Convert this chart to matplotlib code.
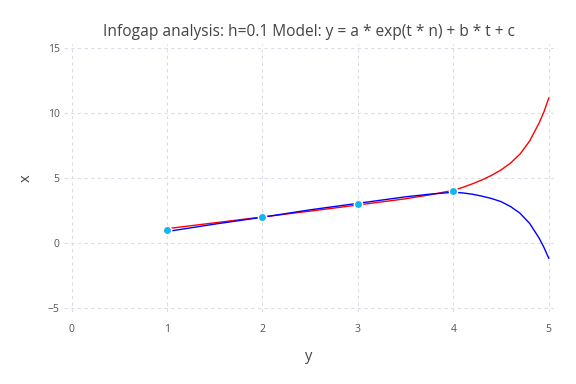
import numpy as np
import matplotlib
matplotlib.use('Agg')
import matplotlib.pyplot as plt

# observed data points
obs_y = [1, 2, 3, 4]
obs_x = [1, 2, 3, 4]

# model curves (upper / lower bound)
t_vals = [1.0, 1.5, 2.0, 2.5, 3.0, 3.5, 3.75, 4.0, 4.1, 4.2, 4.3, 4.4, 4.5,
          4.6, 4.7, 4.8, 4.9, 4.95, 5.0]
upper = [1.10, 1.55, 2.00, 2.45, 2.92, 3.40, 3.70, 4.05, 4.28, 4.55, 4.85,
         5.20, 5.62, 6.15, 6.85, 7.85, 9.25, 10.10, 11.15]
lower = [0.88, 1.45, 1.98, 2.55, 3.05, 3.55, 3.75, 3.90, 3.85, 3.75, 3.60,
         3.42, 3.18, 2.80, 2.28, 1.50, 0.36, -0.35, -1.18]

x_ticks = [0, 1, 2, 3, 4, 5]
y_ticks = [-5, 0, 5, 10, 15]

plt.rcParams['font.family'] = ['Open Sans', 'DejaVu Sans']

fig = plt.figure(figsize=(5.76, 3.84), dpi=100)
ax = fig.add_axes([0.111, 0.188, 0.85, 0.697])

ax.plot(t_vals, upper, color='red', lw=1.0, zorder=3)
ax.plot(t_vals, lower, color='blue', lw=1.0, zorder=3)
ax.plot(obs_y, obs_x, 'o', color='#12b5f0', ms=6, mec='white', mew=1.0, zorder=4)

ax.set_xlim(-0.08, 5.05)
ax.set_ylim(-5.3, 15.3)
ax.set_xticks(x_ticks)
ax.set_yticks(y_ticks)
ax.grid(True, color='#dcdce8', linestyle=(0, (3, 3)), lw=0.8)
for s in ax.spines.values():
    s.set_visible(False)
ax.tick_params(length=0, labelsize=7.5, labelcolor='#555555')
ax.tick_params(axis='x', pad=9)
ax.tick_params(axis='y', pad=3)

ax.set_xlabel('y', fontsize=10.5, color='#444444', labelpad=10)
ax.set_ylabel('x', fontsize=10.5, color='#444444', labelpad=10)
ax.set_title('Infogap analysis: h=0.1 Model: y = a * exp(t * n) + b * t + c',
             fontsize=11.2, color='#444444', pad=6)

fig.savefig('out.png', dpi=100)
